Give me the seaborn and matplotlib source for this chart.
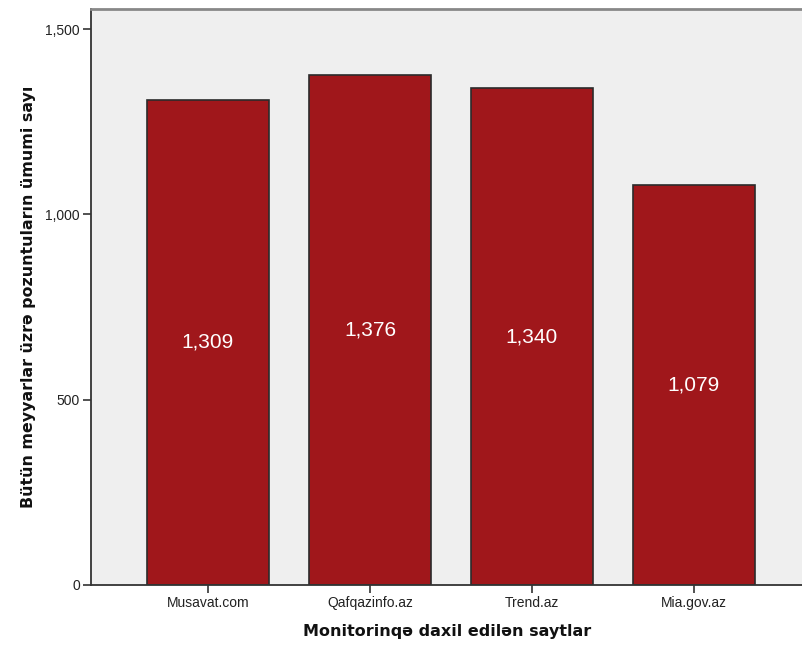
import matplotlib
matplotlib.use("Agg")
import matplotlib.pyplot as plt
import seaborn as sns
import pandas as pd

sites = ["Musavat.com", "Qafqazinfo.az", "Trend.az", "Mia.gov.az"]
totals = [1309, 1376, 1340, 1079]
y_ticks = [0, 500, 1000, 1500]

df = pd.DataFrame({"site": sites, "total": totals})

sns.set_style("white")
plt.rcParams["font.family"] = ["Liberation Sans", "DejaVu Sans"]

fig = plt.figure(figsize=(8.03, 6.48), dpi=100)
ax = fig.add_axes([91 / 803, 63 / 648, 712 / 803, 576 / 648])
ax.set_facecolor("#EFEFEF")

sns.barplot(data=df, x="site", y="total", color="#A0171B", saturation=1,
            width=0.753, edgecolor="#2b2b2b", linewidth=1.2, ax=ax)

for i, v in enumerate(totals):
    ax.text(i, v / 2, f"{v:,}", ha="center", va="center",
            color="white", fontsize=15)

ax.set_xlim(-0.722, 3.673)
ax.set_ylim(0, 1554)
ax.set_yticks(y_ticks)
ax.set_yticklabels([f"{t:,}" for t in y_ticks])
ax.tick_params(axis="both", direction="out", length=6, width=1.2,
               color="#333333", labelsize=10, labelcolor="#222222", pad=2,
               left=True, bottom=True)

for side in ["left", "bottom"]:
    ax.spines[side].set_color("#333333")
    ax.spines[side].set_linewidth(1.3)
ax.spines["top"].set_color("#888888")
ax.spines["top"].set_linewidth(2)
ax.spines["right"].set_visible(False)

ax.set_xlabel("Monitorinqə daxil edilən saytlar", fontsize=11.5,
              fontweight="bold", family="DejaVu Sans", color="#111111",
              labelpad=10)
ax.set_ylabel("Bütün meyyarlar üzrə pozuntuların ümumi sayı", fontsize=11.4,
              fontweight="bold", family="DejaVu Sans", color="#111111",
              labelpad=7)

fig.savefig("out.png", dpi=100)
